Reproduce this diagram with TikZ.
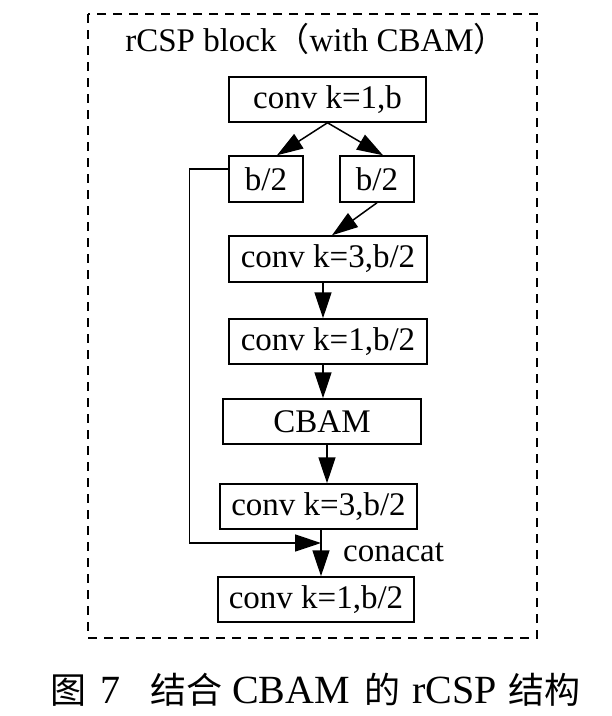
\documentclass[tikz,border=0pt]{standalone}
\usepackage{fontspec}
\setmainfont{Liberation Serif}
\newfontfamily\cjk{Noto Sans CJK SC}
\usetikzlibrary{arrows.meta}
\begin{document}
\begin{tikzpicture}[x=1pt,y=-1pt,
  box/.style={draw,line width=1.5pt,minimum height=45pt,inner sep=0pt,font=\fontsize{33}{36}\selectfont},
  arr/.style={line width=1.5pt,-{Triangle[length=26pt,width=17pt]}},
  lbl/.style={font=\fontsize{33}{36}\selectfont,inner sep=0pt},
  frame/.style={line width=1.6pt,dash pattern=on 9pt off 7pt},
  cj/.style={}]
\useasboundingbox (0,0) rectangle (612,716);
\draw[frame] (88,14) rectangle (537,638);
\node[lbl] (title) at (316,39) {rCSP block{\cjk （}with CBAM{\cjk ）}};
\node[box,minimum width=197pt] (top) at (327.5,99.5) {conv k=1,b};
\node[box,minimum width=74pt,minimum height=46pt] (bl) at (266,179) {b/2};
\node[box,minimum width=74pt,minimum height=46pt] (br) at (377,179) {b/2};
\node[box,minimum width=198pt,minimum height=46pt] (c3a) at (328,259) {conv k=3,b/2};
\node[box,minimum width=198pt] (c1a) at (328,341.5) {conv k=1,b/2};
\node[box,minimum width=198pt] (cbam) at (322,421.5) {CBAM};
\node[box,minimum width=197pt] (c3b) at (318.5,506.5) {conv k=3,b/2};
\node[box,minimum width=196pt] (c1b) at (316,599.5) {conv k=1,b/2};
\draw[arr] (top.south) -- ([xshift=11pt]bl.north);
\draw[arr] (top.south) -- ([xshift=6pt]br.north);
\draw[arr] (br.south) -- ([xshift=4pt]c3a.north);
\draw[arr] ([xshift=-5pt]c3a.south) -- ([xshift=-5pt]c3a.south |- c1a.north);
\draw[arr] ([xshift=-5pt]c1a.south) -- ([xshift=-5pt]c1a.south |- cbam.north);
\draw[arr] ([xshift=5pt]cbam.south) -- ([xshift=5pt]cbam.south |- c3b.north);
\draw[arr] ([xshift=2.5pt]c3b.south) -- ([xshift=2.5pt]c3b.south |- c1b.north);
\coordinate (cat) at (321,543);
\draw[arr] ([yshift=10pt]bl.west) -- ++(-39,0) |- (cat);
\node[lbl,anchor=west] (catlbl) at (343,552) {conacat};
\node[font=\fontsize{40}{44}\selectfont,inner sep=0pt,anchor=west] (cap) at (50,690)
  {{\cjk\fontsize{36}{40}\selectfont 图}\hspace{14pt}7\hspace{30pt}{\cjk\fontsize{36}{40}\selectfont 结合}\hspace{10pt}CBAM\hspace{14pt}{\cjk\fontsize{36}{40}\selectfont 的}\hspace{12pt}rCSP\hspace{12pt}{\cjk\fontsize{36}{40}\selectfont 结构}};
\end{tikzpicture}
\end{document}
